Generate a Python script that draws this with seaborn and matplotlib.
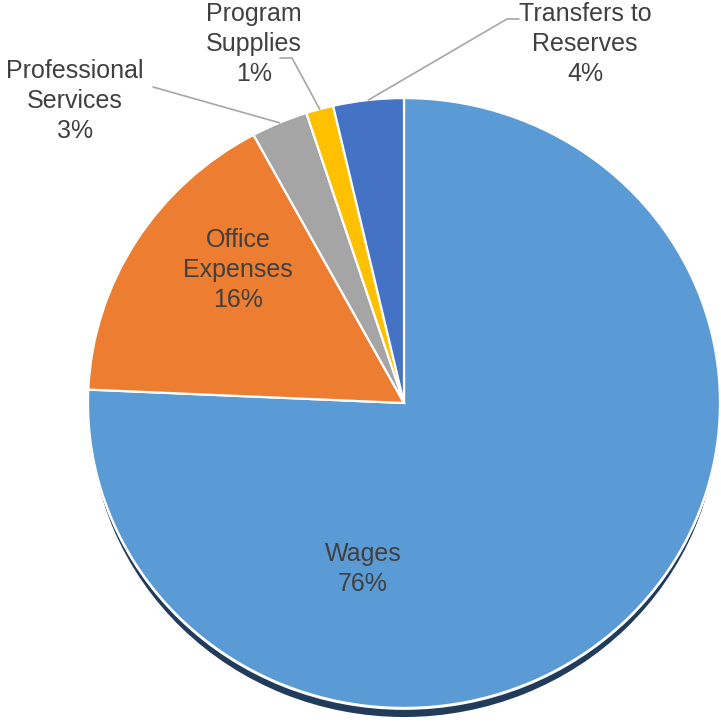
import numpy as np
import matplotlib.pyplot as plt
import seaborn as sns

sns.set_theme(style="white")
plt.rcParams['font.family'] = ['Liberation Sans Narrow', 'Liberation Sans', 'DejaVu Sans']

# Data
categories = ['Wages', 'Office\nExpenses', 'Professional\nServices', 'Program\nSupplies', 'Transfers to\nReserves']
values = [75.7, 16.4, 2.9, 1.4, 3.6]
colors = ['#5B9BD5', '#ED7D31', '#A5A5A5', '#FFC000', '#4472C4']

W, H = 721, 722
K = 0.965  # vertical squash of the pie
fig = plt.figure(figsize=(W / 100, H / 100), dpi=100)
ax = fig.add_axes([0, 0, 1, 1])


def px(x, y):
    # pixel coords (top-left origin) -> data coords
    return x, (H - y) / K


cx, cy = px(404, 403)
R = 316

# shadow under the pie
ax.pie([1], colors=['#213C5A'], radius=R - 2, center=(cx, cy - 11 / K),
       wedgeprops=dict(linewidth=0), frame=True)
ax.pie([1], colors=['white'], radius=R + 1, center=(cx, cy - 1),
       wedgeprops=dict(linewidth=0), frame=True)
wedges, _ = ax.pie(values, colors=colors, radius=R, center=(cx, cy),
                   startangle=90, counterclock=False,
                   wedgeprops=dict(edgecolor='white', linewidth=1.6), frame=True)
ax.set_xlim(0, W)
ax.set_ylim(0, H / K)
ax.set_aspect('auto')
ax.axis('off')

total = sum(values)
pct = [f"{round(v / total * 100)}%" for v in values]
txt = dict(color='#404040', fontsize=18, ha='center', va='center', linespacing=1.32)

# inside labels
ax.text(*px(363, 569), f"{categories[0]}\n{pct[0]}", **txt)
ax.text(*px(238, 270), f"{categories[1]}\n{pct[1]}", **txt)

# outside labels with leader lines
outside = {2: ((75, 101), [(153, 87)]),
           3: ((254, 44), [(280, 58), (292, 58)]),
           4: ((585, 44), [(519, 19), (507, 19)])}
for i, (pos, pts) in outside.items():
    ax.text(*px(*pos), f"{categories[i]}\n{pct[i]}", **txt)
    w = wedges[i]
    ang = np.deg2rad((w.theta1 + w.theta2) / 2)
    end = (cx + R * np.cos(ang), cy + R * np.sin(ang))
    line = [px(*p) for p in pts] + [end]
    xs, ys = zip(*line)
    ax.plot(xs, ys, color='#A6A6A6', linewidth=1.2)

fig.savefig('out.png', dpi=100)
